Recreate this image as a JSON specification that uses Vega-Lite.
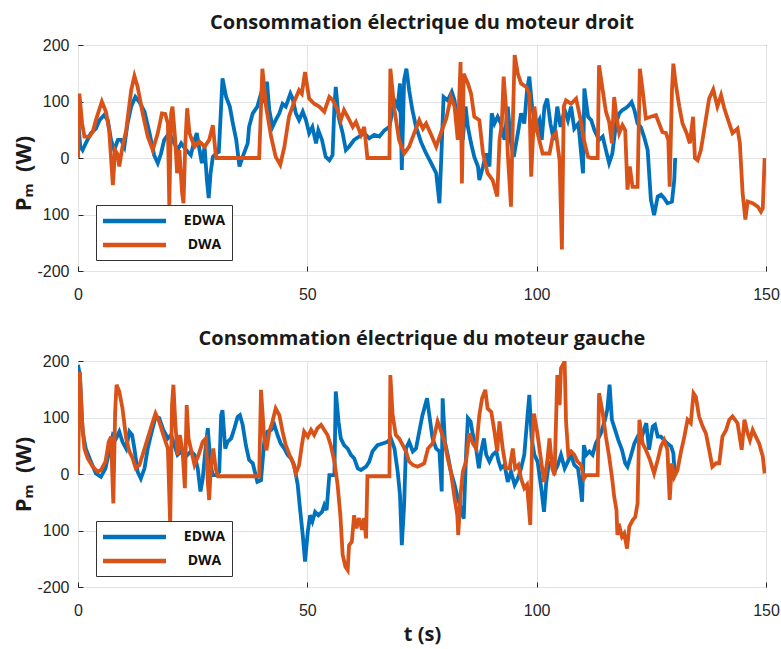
{
  "$schema": "https://vega.github.io/schema/vega-lite/v6.json",
  "background": "white",
  "padding": {"left": 12, "top": 12, "right": 12, "bottom": 8},
  "spacing": 90,
  "bounds": "flush",
  "config": {
    "view": {"stroke": "#262626", "strokeWidth": 1},
    "font": "Liberation Sans",
    "axis": {
      "labelFont": "Liberation Sans",
      "labelFontSize": 16,
      "labelColor": "#262626",
      "labelFlush": false,
      "labelOverlap": false,
      "gridColor": "#e3e3e3",
      "gridWidth": 1,
      "domain": false,
      "tickColor": "#262626",
      "tickSize": -5,
      "titleFont": "Open Sans",
      "titleFontWeight": "bold",
      "titleFontSize": 20,
      "titleColor": "#1a1a1a"
    },
    "title": {"font": "Open Sans", "fontSize": 20, "fontWeight": "bold", "color": "#1a1a1a", "offset": 4, "anchor": "middle"},
    "legend": {
      "orient": "none",
      "legendX": 18,
      "legendY": 160,
      "direction": "vertical",
      "title": null,
      "symbolType": "M-4.2,0H4.2",
      "symbolSize": 225,
      "symbolStrokeWidth": 4.5,
      "symbolOffset": 22.5,
      "labelFont": "Open Sans",
      "labelFontWeight": "bold",
      "labelFontSize": 14,
      "labelColor": "#111111",
      "labelAlign": "center",
      "labelOffset": 60,
      "fillColor": "white",
      "strokeColor": "#333333",
      "padding": 6,
      "rowPadding": 5
    }
  },
  "resolve": {"legend": {"color": "independent"}},
  "datasets": {
    "droit": [
      {"t":0,"p":70,"s":"EDWA"},{"t":0.5,"p":20,"s":"EDWA"},{"t":1.0,"p":14,"s":"EDWA"},{"t":1.7,"p":26,"s":"EDWA"},{"t":2.8,"p":44,"s":"EDWA"},{"t":3.9,"p":52,"s":"EDWA"},{"t":4.7,"p":67,"s":"EDWA"},{"t":5.7,"p":76,"s":"EDWA"},{"t":6.5,"p":67,"s":"EDWA"},{"t":7.2,"p":32,"s":"EDWA"},{"t":7.9,"p":14,"s":"EDWA"},{"t":8.7,"p":32,"s":"EDWA"},{"t":9.4,"p":32,"s":"EDWA"},{"t":10.1,"p":20,"s":"EDWA"},{"t":10.8,"p":61,"s":"EDWA"},{"t":11.6,"p":91,"s":"EDWA"},{"t":12.5,"p":108,"s":"EDWA"},{"t":13.4,"p":99,"s":"EDWA"},{"t":14.5,"p":82,"s":"EDWA"},{"t":15.6,"p":44,"s":"EDWA"},{"t":16.6,"p":5,"s":"EDWA"},{"t":17.4,"p":-9,"s":"EDWA"},{"t":18.1,"p":8,"s":"EDWA"},{"t":18.8,"p":32,"s":"EDWA"},{"t":19.9,"p":44,"s":"EDWA"},{"t":21.0,"p":26,"s":"EDWA"},{"t":21.7,"p":14,"s":"EDWA"},{"t":22.5,"p":26,"s":"EDWA"},{"t":23.6,"p":14,"s":"EDWA"},{"t":24.6,"p":5,"s":"EDWA"},{"t":25.4,"p":32,"s":"EDWA"},{"t":25.9,"p":44,"s":"EDWA"},{"t":26.5,"p":14,"s":"EDWA"},{"t":27.0,"p":-9,"s":"EDWA"},{"t":27.6,"p":20,"s":"EDWA"},{"t":28.1,"p":-39,"s":"EDWA"},{"t":28.5,"p":-71,"s":"EDWA"},{"t":28.9,"p":-27,"s":"EDWA"},{"t":29.4,"p":2,"s":"EDWA"},{"t":30.1,"p":8,"s":"EDWA"},{"t":30.7,"p":11,"s":"EDWA"},{"t":31.2,"p":91,"s":"EDWA"},{"t":31.5,"p":141,"s":"EDWA"},{"t":32.3,"p":108,"s":"EDWA"},{"t":33.1,"p":91,"s":"EDWA"},{"t":33.7,"p":64,"s":"EDWA"},{"t":34.5,"p":32,"s":"EDWA"},{"t":35.2,"p":-15,"s":"EDWA"},{"t":35.9,"p":2,"s":"EDWA"},{"t":37.0,"p":26,"s":"EDWA"},{"t":37.3,"p":55,"s":"EDWA"},{"t":38.1,"p":79,"s":"EDWA"},{"t":39.1,"p":91,"s":"EDWA"},{"t":39.9,"p":114,"s":"EDWA"},{"t":40.6,"p":102,"s":"EDWA"},{"t":41.2,"p":135,"s":"EDWA"},{"t":41.7,"p":85,"s":"EDWA"},{"t":42.4,"p":55,"s":"EDWA"},{"t":43.1,"p":67,"s":"EDWA"},{"t":43.9,"p":79,"s":"EDWA"},{"t":44.6,"p":96,"s":"EDWA"},{"t":45.3,"p":91,"s":"EDWA"},{"t":46.3,"p":114,"s":"EDWA"},{"t":46.8,"p":105,"s":"EDWA"},{"t":47.5,"p":79,"s":"EDWA"},{"t":48.2,"p":67,"s":"EDWA"},{"t":49.0,"p":82,"s":"EDWA"},{"t":49.7,"p":67,"s":"EDWA"},{"t":50.4,"p":44,"s":"EDWA"},{"t":51.1,"p":55,"s":"EDWA"},{"t":51.9,"p":26,"s":"EDWA"},{"t":52.4,"p":49,"s":"EDWA"},{"t":53.2,"p":32,"s":"EDWA"},{"t":54.0,"p":2,"s":"EDWA"},{"t":54.8,"p":-4,"s":"EDWA"},{"t":55.5,"p":5,"s":"EDWA"},{"t":55.9,"p":91,"s":"EDWA"},{"t":56.2,"p":126,"s":"EDWA"},{"t":56.8,"p":73,"s":"EDWA"},{"t":57.7,"p":44,"s":"EDWA"},{"t":58.4,"p":14,"s":"EDWA"},{"t":59.1,"p":20,"s":"EDWA"},{"t":60.2,"p":32,"s":"EDWA"},{"t":61.3,"p":38,"s":"EDWA"},{"t":62.4,"p":44,"s":"EDWA"},{"t":63.5,"p":35,"s":"EDWA"},{"t":64.6,"p":41,"s":"EDWA"},{"t":65.7,"p":38,"s":"EDWA"},{"t":66.8,"p":49,"s":"EDWA"},{"t":67.9,"p":55,"s":"EDWA"},{"t":69.0,"p":102,"s":"EDWA"},{"t":69.7,"p":91,"s":"EDWA"},{"t":70.2,"p":132,"s":"EDWA"},{"t":70.6,"p":-21,"s":"EDWA"},{"t":71.1,"p":138,"s":"EDWA"},{"t":71.6,"p":158,"s":"EDWA"},{"t":72.2,"p":120,"s":"EDWA"},{"t":72.9,"p":85,"s":"EDWA"},{"t":73.7,"p":55,"s":"EDWA"},{"t":74.8,"p":28,"s":"EDWA"},{"t":75.9,"p":8,"s":"EDWA"},{"t":77.0,"p":-9,"s":"EDWA"},{"t":78.1,"p":-27,"s":"EDWA"},{"t":78.8,"p":-80,"s":"EDWA"},{"t":79.3,"p":20,"s":"EDWA"},{"t":79.7,"p":108,"s":"EDWA"},{"t":80.6,"p":102,"s":"EDWA"},{"t":81.5,"p":117,"s":"EDWA"},{"t":82.1,"p":102,"s":"EDWA"},{"t":82.8,"p":55,"s":"EDWA"},{"t":83.9,"p":32,"s":"EDWA"},{"t":84.5,"p":91,"s":"EDWA"},{"t":85.0,"p":55,"s":"EDWA"},{"t":85.7,"p":26,"s":"EDWA"},{"t":86.4,"p":2,"s":"EDWA"},{"t":87.2,"p":-15,"s":"EDWA"},{"t":87.5,"p":-39,"s":"EDWA"},{"t":88.3,"p":-15,"s":"EDWA"},{"t":89.0,"p":8,"s":"EDWA"},{"t":89.7,"p":-15,"s":"EDWA"},{"t":90.2,"p":79,"s":"EDWA"},{"t":90.8,"p":61,"s":"EDWA"},{"t":91.5,"p":73,"s":"EDWA"},{"t":92.2,"p":61,"s":"EDWA"},{"t":93.0,"p":32,"s":"EDWA"},{"t":93.7,"p":91,"s":"EDWA"},{"t":94.3,"p":32,"s":"EDWA"},{"t":95.0,"p":2,"s":"EDWA"},{"t":95.9,"p":44,"s":"EDWA"},{"t":96.6,"p":79,"s":"EDWA"},{"t":97.3,"p":61,"s":"EDWA"},{"t":97.9,"p":120,"s":"EDWA"},{"t":98.4,"p":144,"s":"EDWA"},{"t":99.0,"p":91,"s":"EDWA"},{"t":99.9,"p":55,"s":"EDWA"},{"t":100.6,"p":67,"s":"EDWA"},{"t":101.1,"p":32,"s":"EDWA"},{"t":101.7,"p":91,"s":"EDWA"},{"t":102.3,"p":105,"s":"EDWA"},{"t":103.0,"p":61,"s":"EDWA"},{"t":103.7,"p":32,"s":"EDWA"},{"t":104.5,"p":91,"s":"EDWA"},{"t":105.2,"p":55,"s":"EDWA"},{"t":106.1,"p":85,"s":"EDWA"},{"t":106.8,"p":67,"s":"EDWA"},{"t":107.5,"p":91,"s":"EDWA"},{"t":108.2,"p":52,"s":"EDWA"},{"t":109.1,"p":61,"s":"EDWA"},{"t":109.7,"p":8,"s":"EDWA"},{"t":110.1,"p":-27,"s":"EDWA"},{"t":110.4,"p":123,"s":"EDWA"},{"t":111.2,"p":73,"s":"EDWA"},{"t":111.9,"p":67,"s":"EDWA"},{"t":112.6,"p":49,"s":"EDWA"},{"t":113.6,"p":32,"s":"EDWA"},{"t":114.4,"p":38,"s":"EDWA"},{"t":115.1,"p":14,"s":"EDWA"},{"t":115.8,"p":-9,"s":"EDWA"},{"t":116.5,"p":8,"s":"EDWA"},{"t":117.3,"p":61,"s":"EDWA"},{"t":118.0,"p":79,"s":"EDWA"},{"t":118.7,"p":85,"s":"EDWA"},{"t":119.4,"p":88,"s":"EDWA"},{"t":120.2,"p":94,"s":"EDWA"},{"t":120.7,"p":99,"s":"EDWA"},{"t":121.3,"p":85,"s":"EDWA"},{"t":122.0,"p":61,"s":"EDWA"},{"t":122.7,"p":55,"s":"EDWA"},{"t":123.4,"p":38,"s":"EDWA"},{"t":124.2,"p":14,"s":"EDWA"},{"t":124.9,"p":-74,"s":"EDWA"},{"t":125.6,"p":-101,"s":"EDWA"},{"t":126.4,"p":-68,"s":"EDWA"},{"t":127.1,"p":-65,"s":"EDWA"},{"t":127.8,"p":-71,"s":"EDWA"},{"t":128.5,"p":-80,"s":"EDWA"},{"t":129.5,"p":-77,"s":"EDWA"},{"t":130.0,"p":-39,"s":"EDWA"},{"t":130.2,"p":0,"s":"EDWA"},
      {"t":0,"p":0,"s":"DWA"},{"t":0.3,"p":114,"s":"DWA"},{"t":0.9,"p":61,"s":"DWA"},{"t":1.4,"p":38,"s":"DWA"},{"t":2.5,"p":38,"s":"DWA"},{"t":3.2,"p":46,"s":"DWA"},{"t":3.9,"p":67,"s":"DWA"},{"t":5.2,"p":100,"s":"DWA"},{"t":6.1,"p":82,"s":"DWA"},{"t":6.8,"p":49,"s":"DWA"},{"t":7.6,"p":-48,"s":"DWA"},{"t":8.1,"p":14,"s":"DWA"},{"t":8.7,"p":5,"s":"DWA"},{"t":9.0,"p":-15,"s":"DWA"},{"t":9.7,"p":20,"s":"DWA"},{"t":10.5,"p":49,"s":"DWA"},{"t":11.6,"p":120,"s":"DWA"},{"t":12.3,"p":145,"s":"DWA"},{"t":13.0,"p":126,"s":"DWA"},{"t":14.1,"p":79,"s":"DWA"},{"t":15.2,"p":38,"s":"DWA"},{"t":16.3,"p":14,"s":"DWA"},{"t":17.4,"p":44,"s":"DWA"},{"t":18.3,"p":79,"s":"DWA"},{"t":19.0,"p":78,"s":"DWA"},{"t":19.6,"p":61,"s":"DWA"},{"t":19.9,"p":-83,"s":"DWA"},{"t":20.3,"p":79,"s":"DWA"},{"t":20.6,"p":91,"s":"DWA"},{"t":21.2,"p":32,"s":"DWA"},{"t":21.6,"p":-27,"s":"DWA"},{"t":22.1,"p":14,"s":"DWA"},{"t":22.7,"p":-62,"s":"DWA"},{"t":23.0,"p":-80,"s":"DWA"},{"t":23.4,"p":26,"s":"DWA"},{"t":23.8,"p":88,"s":"DWA"},{"t":24.3,"p":44,"s":"DWA"},{"t":25.4,"p":20,"s":"DWA"},{"t":26.5,"p":29,"s":"DWA"},{"t":27.6,"p":20,"s":"DWA"},{"t":28.6,"p":32,"s":"DWA"},{"t":29.4,"p":58,"s":"DWA"},{"t":30.0,"p":8,"s":"DWA"},{"t":30.2,"p":0,"s":"DWA"},{"t":39.5,"p":0,"s":"DWA"},{"t":40.2,"p":158,"s":"DWA"},{"t":41.0,"p":91,"s":"DWA"},{"t":42.1,"p":38,"s":"DWA"},{"t":43.1,"p":2,"s":"DWA"},{"t":44.1,"p":-12,"s":"DWA"},{"t":45.0,"p":20,"s":"DWA"},{"t":46.0,"p":73,"s":"DWA"},{"t":47.1,"p":99,"s":"DWA"},{"t":48.2,"p":120,"s":"DWA"},{"t":48.8,"p":114,"s":"DWA"},{"t":49.5,"p":152,"s":"DWA"},{"t":50.4,"p":105,"s":"DWA"},{"t":51.5,"p":96,"s":"DWA"},{"t":52.6,"p":91,"s":"DWA"},{"t":53.7,"p":82,"s":"DWA"},{"t":54.8,"p":108,"s":"DWA"},{"t":55.6,"p":102,"s":"DWA"},{"t":56.6,"p":85,"s":"DWA"},{"t":57.3,"p":67,"s":"DWA"},{"t":58.0,"p":85,"s":"DWA"},{"t":58.8,"p":73,"s":"DWA"},{"t":59.9,"p":55,"s":"DWA"},{"t":60.6,"p":64,"s":"DWA"},{"t":61.7,"p":41,"s":"DWA"},{"t":62.4,"p":55,"s":"DWA"},{"t":63.1,"p":0,"s":"DWA"},{"t":67.9,"p":0,"s":"DWA"},{"t":68.1,"p":158,"s":"DWA"},{"t":69.0,"p":85,"s":"DWA"},{"t":70.0,"p":32,"s":"DWA"},{"t":71.1,"p":8,"s":"DWA"},{"t":72.2,"p":20,"s":"DWA"},{"t":73.3,"p":44,"s":"DWA"},{"t":74.4,"p":67,"s":"DWA"},{"t":75.2,"p":52,"s":"DWA"},{"t":75.9,"p":61,"s":"DWA"},{"t":77.0,"p":41,"s":"DWA"},{"t":78.1,"p":20,"s":"DWA"},{"t":79.2,"p":46,"s":"DWA"},{"t":80.3,"p":70,"s":"DWA"},{"t":81.3,"p":108,"s":"DWA"},{"t":82.1,"p":91,"s":"DWA"},{"t":82.8,"p":32,"s":"DWA"},{"t":83.4,"p":170,"s":"DWA"},{"t":83.7,"p":-45,"s":"DWA"},{"t":84.1,"p":149,"s":"DWA"},{"t":85.0,"p":132,"s":"DWA"},{"t":85.7,"p":114,"s":"DWA"},{"t":86.4,"p":73,"s":"DWA"},{"t":87.5,"p":67,"s":"DWA"},{"t":88.3,"p":8,"s":"DWA"},{"t":89.3,"p":-27,"s":"DWA"},{"t":90.4,"p":-39,"s":"DWA"},{"t":91.4,"p":-68,"s":"DWA"},{"t":91.9,"p":32,"s":"DWA"},{"t":92.4,"p":61,"s":"DWA"},{"t":92.8,"p":144,"s":"DWA"},{"t":93.3,"p":91,"s":"DWA"},{"t":93.7,"p":8,"s":"DWA"},{"t":94.4,"p":-86,"s":"DWA"},{"t":94.8,"p":61,"s":"DWA"},{"t":95.2,"p":182,"s":"DWA"},{"t":95.9,"p":149,"s":"DWA"},{"t":96.6,"p":132,"s":"DWA"},{"t":97.7,"p":126,"s":"DWA"},{"t":98.4,"p":114,"s":"DWA"},{"t":98.8,"p":-33,"s":"DWA"},{"t":99.5,"p":91,"s":"DWA"},{"t":100.2,"p":44,"s":"DWA"},{"t":101.3,"p":8,"s":"DWA"},{"t":102.8,"p":8,"s":"DWA"},{"t":103.5,"p":38,"s":"DWA"},{"t":104.2,"p":44,"s":"DWA"},{"t":105.0,"p":-4,"s":"DWA"},{"t":105.5,"p":-162,"s":"DWA"},{"t":105.9,"p":91,"s":"DWA"},{"t":106.4,"p":102,"s":"DWA"},{"t":107.5,"p":96,"s":"DWA"},{"t":108.6,"p":105,"s":"DWA"},{"t":109.6,"p":67,"s":"DWA"},{"t":110.3,"p":32,"s":"DWA"},{"t":111.2,"p":2,"s":"DWA"},{"t":111.9,"p":0,"s":"DWA"},{"t":113.3,"p":0,"s":"DWA"},{"t":113.6,"p":164,"s":"DWA"},{"t":114.4,"p":120,"s":"DWA"},{"t":115.1,"p":82,"s":"DWA"},{"t":115.8,"p":64,"s":"DWA"},{"t":116.4,"p":26,"s":"DWA"},{"t":116.9,"p":108,"s":"DWA"},{"t":117.4,"p":73,"s":"DWA"},{"t":118.0,"p":44,"s":"DWA"},{"t":118.7,"p":58,"s":"DWA"},{"t":119.3,"p":49,"s":"DWA"},{"t":119.8,"p":-56,"s":"DWA"},{"t":120.3,"p":-15,"s":"DWA"},{"t":120.9,"p":-51,"s":"DWA"},{"t":122.0,"p":-51,"s":"DWA"},{"t":122.5,"p":158,"s":"DWA"},{"t":123.1,"p":120,"s":"DWA"},{"t":123.8,"p":70,"s":"DWA"},{"t":124.9,"p":73,"s":"DWA"},{"t":126.0,"p":76,"s":"DWA"},{"t":126.7,"p":61,"s":"DWA"},{"t":127.4,"p":46,"s":"DWA"},{"t":128.2,"p":44,"s":"DWA"},{"t":128.7,"p":32,"s":"DWA"},{"t":129.0,"p":-51,"s":"DWA"},{"t":129.5,"p":120,"s":"DWA"},{"t":129.8,"p":167,"s":"DWA"},{"t":130.3,"p":132,"s":"DWA"},{"t":131.1,"p":91,"s":"DWA"},{"t":131.8,"p":61,"s":"DWA"},{"t":132.7,"p":44,"s":"DWA"},{"t":133.4,"p":26,"s":"DWA"},{"t":134.1,"p":73,"s":"DWA"},{"t":134.5,"p":0,"s":"DWA"},{"t":135.1,"p":-4,"s":"DWA"},{"t":135.8,"p":14,"s":"DWA"},{"t":136.5,"p":49,"s":"DWA"},{"t":137.6,"p":105,"s":"DWA"},{"t":138.5,"p":121,"s":"DWA"},{"t":139.4,"p":91,"s":"DWA"},{"t":140.2,"p":111,"s":"DWA"},{"t":140.9,"p":88,"s":"DWA"},{"t":142.0,"p":61,"s":"DWA"},{"t":142.7,"p":44,"s":"DWA"},{"t":143.8,"p":52,"s":"DWA"},{"t":144.3,"p":26,"s":"DWA"},{"t":144.9,"p":-62,"s":"DWA"},{"t":145.5,"p":-109,"s":"DWA"},{"t":146.0,"p":-77,"s":"DWA"},{"t":147.1,"p":-80,"s":"DWA"},{"t":148.2,"p":-86,"s":"DWA"},{"t":148.9,"p":-95,"s":"DWA"},{"t":149.3,"p":-89,"s":"DWA"},{"t":149.7,"p":0,"s":"DWA"}
    ],
    "gauche": [
      {"t":0,"p":193,"s":"EDWA"},{"t":0.4,"p":175,"s":"EDWA"},{"t":1.0,"p":75,"s":"EDWA"},{"t":1.7,"p":45,"s":"EDWA"},{"t":2.8,"p":22,"s":"EDWA"},{"t":3.9,"p":1,"s":"EDWA"},{"t":5.0,"p":-5,"s":"EDWA"},{"t":6.0,"p":10,"s":"EDWA"},{"t":6.8,"p":40,"s":"EDWA"},{"t":7.6,"p":69,"s":"EDWA"},{"t":8.3,"p":63,"s":"EDWA"},{"t":9.0,"p":75,"s":"EDWA"},{"t":9.7,"p":57,"s":"EDWA"},{"t":10.5,"p":45,"s":"EDWA"},{"t":11.2,"p":75,"s":"EDWA"},{"t":11.8,"p":69,"s":"EDWA"},{"t":12.3,"p":45,"s":"EDWA"},{"t":13.0,"p":4,"s":"EDWA"},{"t":13.7,"p":-8,"s":"EDWA"},{"t":14.5,"p":10,"s":"EDWA"},{"t":15.2,"p":45,"s":"EDWA"},{"t":15.9,"p":69,"s":"EDWA"},{"t":16.9,"p":101,"s":"EDWA"},{"t":17.7,"p":99,"s":"EDWA"},{"t":18.6,"p":78,"s":"EDWA"},{"t":19.6,"p":63,"s":"EDWA"},{"t":20.3,"p":69,"s":"EDWA"},{"t":21.0,"p":51,"s":"EDWA"},{"t":21.7,"p":34,"s":"EDWA"},{"t":22.5,"p":40,"s":"EDWA"},{"t":23.2,"p":28,"s":"EDWA"},{"t":23.9,"p":34,"s":"EDWA"},{"t":24.6,"p":40,"s":"EDWA"},{"t":25.4,"p":34,"s":"EDWA"},{"t":26.1,"p":10,"s":"EDWA"},{"t":26.7,"p":-31,"s":"EDWA"},{"t":27.2,"p":-8,"s":"EDWA"},{"t":27.8,"p":45,"s":"EDWA"},{"t":28.3,"p":81,"s":"EDWA"},{"t":28.9,"p":16,"s":"EDWA"},{"t":29.4,"p":-2,"s":"EDWA"},{"t":30.1,"p":-2,"s":"EDWA"},{"t":30.8,"p":4,"s":"EDWA"},{"t":31.2,"p":104,"s":"EDWA"},{"t":31.5,"p":113,"s":"EDWA"},{"t":32.1,"p":45,"s":"EDWA"},{"t":32.6,"p":57,"s":"EDWA"},{"t":33.4,"p":63,"s":"EDWA"},{"t":34.1,"p":81,"s":"EDWA"},{"t":34.8,"p":101,"s":"EDWA"},{"t":35.3,"p":104,"s":"EDWA"},{"t":35.9,"p":87,"s":"EDWA"},{"t":36.6,"p":51,"s":"EDWA"},{"t":37.3,"p":25,"s":"EDWA"},{"t":38.1,"p":19,"s":"EDWA"},{"t":39.1,"p":-14,"s":"EDWA"},{"t":39.9,"p":-11,"s":"EDWA"},{"t":40.6,"p":57,"s":"EDWA"},{"t":41.3,"p":75,"s":"EDWA"},{"t":42.1,"p":78,"s":"EDWA"},{"t":42.8,"p":87,"s":"EDWA"},{"t":43.5,"p":69,"s":"EDWA"},{"t":44.2,"p":54,"s":"EDWA"},{"t":45.0,"p":45,"s":"EDWA"},{"t":45.7,"p":34,"s":"EDWA"},{"t":46.4,"p":28,"s":"EDWA"},{"t":47.1,"p":16,"s":"EDWA"},{"t":47.9,"p":-19,"s":"EDWA"},{"t":48.4,"p":-61,"s":"EDWA"},{"t":49.0,"p":-108,"s":"EDWA"},{"t":49.5,"p":-155,"s":"EDWA"},{"t":50.1,"p":-102,"s":"EDWA"},{"t":50.6,"p":-73,"s":"EDWA"},{"t":51.1,"p":-84,"s":"EDWA"},{"t":51.7,"p":-67,"s":"EDWA"},{"t":52.4,"p":-73,"s":"EDWA"},{"t":53.2,"p":-67,"s":"EDWA"},{"t":53.7,"p":-55,"s":"EDWA"},{"t":54.2,"p":-64,"s":"EDWA"},{"t":54.8,"p":-2,"s":"EDWA"},{"t":55.9,"p":-2,"s":"EDWA"},{"t":56.2,"p":146,"s":"EDWA"},{"t":56.8,"p":93,"s":"EDWA"},{"t":57.3,"p":63,"s":"EDWA"},{"t":58.0,"p":51,"s":"EDWA"},{"t":58.8,"p":45,"s":"EDWA"},{"t":59.5,"p":34,"s":"EDWA"},{"t":60.2,"p":28,"s":"EDWA"},{"t":61.0,"p":10,"s":"EDWA"},{"t":61.7,"p":7,"s":"EDWA"},{"t":62.8,"p":13,"s":"EDWA"},{"t":63.5,"p":22,"s":"EDWA"},{"t":64.2,"p":40,"s":"EDWA"},{"t":65.3,"p":51,"s":"EDWA"},{"t":66.4,"p":54,"s":"EDWA"},{"t":67.5,"p":57,"s":"EDWA"},{"t":68.2,"p":63,"s":"EDWA"},{"t":69.0,"p":45,"s":"EDWA"},{"t":69.7,"p":4,"s":"EDWA"},{"t":70.2,"p":-37,"s":"EDWA"},{"t":70.6,"p":-126,"s":"EDWA"},{"t":71.1,"p":-55,"s":"EDWA"},{"t":71.5,"p":45,"s":"EDWA"},{"t":72.2,"p":57,"s":"EDWA"},{"t":73.0,"p":40,"s":"EDWA"},{"t":73.7,"p":45,"s":"EDWA"},{"t":74.4,"p":75,"s":"EDWA"},{"t":75.1,"p":104,"s":"EDWA"},{"t":75.5,"p":116,"s":"EDWA"},{"t":76.1,"p":134,"s":"EDWA"},{"t":76.6,"p":104,"s":"EDWA"},{"t":77.3,"p":63,"s":"EDWA"},{"t":78.1,"p":45,"s":"EDWA"},{"t":78.8,"p":40,"s":"EDWA"},{"t":79.3,"p":-31,"s":"EDWA"},{"t":79.5,"p":134,"s":"EDWA"},{"t":80.0,"p":57,"s":"EDWA"},{"t":80.6,"p":34,"s":"EDWA"},{"t":81.3,"p":4,"s":"EDWA"},{"t":82.1,"p":-19,"s":"EDWA"},{"t":82.8,"p":-43,"s":"EDWA"},{"t":83.5,"p":-61,"s":"EDWA"},{"t":84.1,"p":-79,"s":"EDWA"},{"t":84.6,"p":34,"s":"EDWA"},{"t":85.0,"p":99,"s":"EDWA"},{"t":85.6,"p":93,"s":"EDWA"},{"t":86.1,"p":69,"s":"EDWA"},{"t":86.8,"p":45,"s":"EDWA"},{"t":87.4,"p":10,"s":"EDWA"},{"t":87.9,"p":40,"s":"EDWA"},{"t":88.5,"p":63,"s":"EDWA"},{"t":89.0,"p":34,"s":"EDWA"},{"t":89.7,"p":22,"s":"EDWA"},{"t":90.4,"p":34,"s":"EDWA"},{"t":91.2,"p":40,"s":"EDWA"},{"t":91.7,"p":22,"s":"EDWA"},{"t":92.2,"p":10,"s":"EDWA"},{"t":93.0,"p":16,"s":"EDWA"},{"t":93.7,"p":-14,"s":"EDWA"},{"t":94.4,"p":4,"s":"EDWA"},{"t":95.2,"p":-19,"s":"EDWA"},{"t":95.9,"p":-8,"s":"EDWA"},{"t":96.6,"p":10,"s":"EDWA"},{"t":97.3,"p":34,"s":"EDWA"},{"t":97.9,"p":93,"s":"EDWA"},{"t":98.4,"p":140,"s":"EDWA"},{"t":98.9,"p":63,"s":"EDWA"},{"t":99.5,"p":34,"s":"EDWA"},{"t":100.2,"p":22,"s":"EDWA"},{"t":101.0,"p":-25,"s":"EDWA"},{"t":101.6,"p":-67,"s":"EDWA"},{"t":102.1,"p":-14,"s":"EDWA"},{"t":102.6,"p":16,"s":"EDWA"},{"t":103.2,"p":22,"s":"EDWA"},{"t":103.9,"p":4,"s":"EDWA"},{"t":104.6,"p":16,"s":"EDWA"},{"t":105.3,"p":34,"s":"EDWA"},{"t":106.1,"p":10,"s":"EDWA"},{"t":106.8,"p":22,"s":"EDWA"},{"t":107.5,"p":34,"s":"EDWA"},{"t":108.2,"p":16,"s":"EDWA"},{"t":109.0,"p":10,"s":"EDWA"},{"t":109.5,"p":-19,"s":"EDWA"},{"t":109.9,"p":-49,"s":"EDWA"},{"t":110.3,"p":51,"s":"EDWA"},{"t":110.8,"p":34,"s":"EDWA"},{"t":111.5,"p":40,"s":"EDWA"},{"t":112.2,"p":34,"s":"EDWA"},{"t":112.9,"p":54,"s":"EDWA"},{"t":114.0,"p":72,"s":"EDWA"},{"t":114.9,"p":96,"s":"EDWA"},{"t":115.4,"p":114,"s":"EDWA"},{"t":115.9,"p":158,"s":"EDWA"},{"t":116.4,"p":96,"s":"EDWA"},{"t":117.1,"p":78,"s":"EDWA"},{"t":117.8,"p":60,"s":"EDWA"},{"t":118.6,"p":43,"s":"EDWA"},{"t":119.3,"p":19,"s":"EDWA"},{"t":119.8,"p":13,"s":"EDWA"},{"t":120.5,"p":31,"s":"EDWA"},{"t":121.3,"p":54,"s":"EDWA"},{"t":122.0,"p":66,"s":"EDWA"},{"t":122.7,"p":60,"s":"EDWA"},{"t":123.4,"p":78,"s":"EDWA"},{"t":123.9,"p":90,"s":"EDWA"},{"t":124.5,"p":43,"s":"EDWA"},{"t":125.3,"p":84,"s":"EDWA"},{"t":125.8,"p":87,"s":"EDWA"},{"t":126.4,"p":66,"s":"EDWA"},{"t":127.1,"p":66,"s":"EDWA"},{"t":127.8,"p":60,"s":"EDWA"},{"t":128.5,"p":54,"s":"EDWA"},{"t":129.3,"p":49,"s":"EDWA"},{"t":129.8,"p":37,"s":"EDWA"},{"t":130.1,"p":1,"s":"EDWA"},
      {"t":0,"p":0,"s":"DWA"},{"t":0.4,"p":181,"s":"DWA"},{"t":0.9,"p":93,"s":"DWA"},{"t":1.4,"p":45,"s":"DWA"},{"t":2.1,"p":28,"s":"DWA"},{"t":3.2,"p":13,"s":"DWA"},{"t":4.3,"p":4,"s":"DWA"},{"t":5.0,"p":7,"s":"DWA"},{"t":6.0,"p":22,"s":"DWA"},{"t":6.7,"p":57,"s":"DWA"},{"t":7.2,"p":66,"s":"DWA"},{"t":7.7,"p":-52,"s":"DWA"},{"t":8.1,"p":110,"s":"DWA"},{"t":8.4,"p":158,"s":"DWA"},{"t":9.0,"p":146,"s":"DWA"},{"t":9.7,"p":116,"s":"DWA"},{"t":10.5,"p":63,"s":"DWA"},{"t":11.2,"p":40,"s":"DWA"},{"t":11.9,"p":28,"s":"DWA"},{"t":12.6,"p":10,"s":"DWA"},{"t":13.4,"p":16,"s":"DWA"},{"t":14.1,"p":34,"s":"DWA"},{"t":15.2,"p":63,"s":"DWA"},{"t":16.1,"p":87,"s":"DWA"},{"t":16.9,"p":107,"s":"DWA"},{"t":17.7,"p":93,"s":"DWA"},{"t":18.6,"p":69,"s":"DWA"},{"t":19.6,"p":45,"s":"DWA"},{"t":20.1,"p":-90,"s":"DWA"},{"t":20.5,"p":122,"s":"DWA"},{"t":20.8,"p":158,"s":"DWA"},{"t":21.2,"p":93,"s":"DWA"},{"t":21.7,"p":34,"s":"DWA"},{"t":22.2,"p":69,"s":"DWA"},{"t":22.8,"p":40,"s":"DWA"},{"t":23.3,"p":-25,"s":"DWA"},{"t":23.7,"p":122,"s":"DWA"},{"t":24.1,"p":63,"s":"DWA"},{"t":24.6,"p":45,"s":"DWA"},{"t":25.4,"p":16,"s":"DWA"},{"t":26.3,"p":34,"s":"DWA"},{"t":27.2,"p":57,"s":"DWA"},{"t":27.9,"p":63,"s":"DWA"},{"t":28.3,"p":-14,"s":"DWA"},{"t":28.6,"p":-46,"s":"DWA"},{"t":29.0,"p":16,"s":"DWA"},{"t":29.5,"p":45,"s":"DWA"},{"t":30.0,"p":10,"s":"DWA"},{"t":30.5,"p":-4,"s":"DWA"},{"t":39.5,"p":-4,"s":"DWA"},{"t":39.9,"p":149,"s":"DWA"},{"t":40.6,"p":63,"s":"DWA"},{"t":41.1,"p":42,"s":"DWA"},{"t":41.7,"p":75,"s":"DWA"},{"t":42.4,"p":93,"s":"DWA"},{"t":43.1,"p":116,"s":"DWA"},{"t":43.9,"p":104,"s":"DWA"},{"t":44.6,"p":75,"s":"DWA"},{"t":45.3,"p":51,"s":"DWA"},{"t":46.1,"p":34,"s":"DWA"},{"t":46.8,"p":22,"s":"DWA"},{"t":47.5,"p":1,"s":"DWA"},{"t":48.2,"p":16,"s":"DWA"},{"t":48.8,"p":51,"s":"DWA"},{"t":49.3,"p":75,"s":"DWA"},{"t":50.1,"p":66,"s":"DWA"},{"t":50.8,"p":78,"s":"DWA"},{"t":51.5,"p":69,"s":"DWA"},{"t":52.2,"p":81,"s":"DWA"},{"t":53.0,"p":87,"s":"DWA"},{"t":53.7,"p":78,"s":"DWA"},{"t":54.4,"p":69,"s":"DWA"},{"t":55.1,"p":51,"s":"DWA"},{"t":55.9,"p":22,"s":"DWA"},{"t":56.6,"p":-19,"s":"DWA"},{"t":57.2,"p":-73,"s":"DWA"},{"t":57.7,"p":-143,"s":"DWA"},{"t":58.3,"p":-164,"s":"DWA"},{"t":58.8,"p":-170,"s":"DWA"},{"t":59.1,"p":-126,"s":"DWA"},{"t":59.7,"p":-120,"s":"DWA"},{"t":60.2,"p":-73,"s":"DWA"},{"t":60.7,"p":-96,"s":"DWA"},{"t":61.3,"p":-78,"s":"DWA"},{"t":61.9,"p":-99,"s":"DWA"},{"t":62.4,"p":-78,"s":"DWA"},{"t":62.8,"p":-114,"s":"DWA"},{"t":63.1,"p":-4,"s":"DWA"},{"t":67.9,"p":-4,"s":"DWA"},{"t":68.1,"p":175,"s":"DWA"},{"t":68.6,"p":104,"s":"DWA"},{"t":69.3,"p":69,"s":"DWA"},{"t":70.0,"p":63,"s":"DWA"},{"t":70.8,"p":51,"s":"DWA"},{"t":71.5,"p":40,"s":"DWA"},{"t":72.2,"p":22,"s":"DWA"},{"t":73.0,"p":16,"s":"DWA"},{"t":74.0,"p":13,"s":"DWA"},{"t":74.8,"p":16,"s":"DWA"},{"t":75.5,"p":19,"s":"DWA"},{"t":76.3,"p":45,"s":"DWA"},{"t":77.3,"p":54,"s":"DWA"},{"t":78.4,"p":93,"s":"DWA"},{"t":79.2,"p":75,"s":"DWA"},{"t":79.9,"p":57,"s":"DWA"},{"t":80.6,"p":28,"s":"DWA"},{"t":81.3,"p":4,"s":"DWA"},{"t":82.1,"p":-43,"s":"DWA"},{"t":82.7,"p":-73,"s":"DWA"},{"t":82.9,"p":-108,"s":"DWA"},{"t":83.4,"p":-37,"s":"DWA"},{"t":83.9,"p":4,"s":"DWA"},{"t":84.6,"p":22,"s":"DWA"},{"t":85.3,"p":72,"s":"DWA"},{"t":86.1,"p":54,"s":"DWA"},{"t":86.8,"p":45,"s":"DWA"},{"t":87.5,"p":104,"s":"DWA"},{"t":88.1,"p":134,"s":"DWA"},{"t":88.8,"p":149,"s":"DWA"},{"t":89.3,"p":116,"s":"DWA"},{"t":90.1,"p":110,"s":"DWA"},{"t":90.8,"p":75,"s":"DWA"},{"t":91.4,"p":40,"s":"DWA"},{"t":91.9,"p":93,"s":"DWA"},{"t":92.6,"p":45,"s":"DWA"},{"t":93.3,"p":10,"s":"DWA"},{"t":94.1,"p":10,"s":"DWA"},{"t":94.8,"p":45,"s":"DWA"},{"t":95.3,"p":10,"s":"DWA"},{"t":96.0,"p":16,"s":"DWA"},{"t":96.6,"p":-8,"s":"DWA"},{"t":97.3,"p":-25,"s":"DWA"},{"t":97.9,"p":-19,"s":"DWA"},{"t":98.6,"p":-90,"s":"DWA"},{"t":99.0,"p":51,"s":"DWA"},{"t":99.4,"p":107,"s":"DWA"},{"t":100.1,"p":75,"s":"DWA"},{"t":100.8,"p":34,"s":"DWA"},{"t":101.6,"p":-14,"s":"DWA"},{"t":102.3,"p":22,"s":"DWA"},{"t":102.8,"p":63,"s":"DWA"},{"t":103.4,"p":10,"s":"DWA"},{"t":103.9,"p":-2,"s":"DWA"},{"t":104.5,"p":175,"s":"DWA"},{"t":105.0,"p":122,"s":"DWA"},{"t":105.3,"p":187,"s":"DWA"},{"t":105.7,"p":193,"s":"DWA"},{"t":106.1,"p":200,"s":"DWA"},{"t":106.4,"p":93,"s":"DWA"},{"t":106.9,"p":34,"s":"DWA"},{"t":107.5,"p":40,"s":"DWA"},{"t":108.2,"p":34,"s":"DWA"},{"t":108.9,"p":22,"s":"DWA"},{"t":109.7,"p":16,"s":"DWA"},{"t":110.3,"p":-8,"s":"DWA"},{"t":110.8,"p":-2,"s":"DWA"},{"t":113.3,"p":-2,"s":"DWA"},{"t":113.6,"p":143,"s":"DWA"},{"t":114.4,"p":108,"s":"DWA"},{"t":115.1,"p":66,"s":"DWA"},{"t":115.8,"p":31,"s":"DWA"},{"t":116.5,"p":-11,"s":"DWA"},{"t":116.9,"p":-40,"s":"DWA"},{"t":117.4,"p":-64,"s":"DWA"},{"t":117.6,"p":-108,"s":"DWA"},{"t":117.9,"p":-88,"s":"DWA"},{"t":118.6,"p":-111,"s":"DWA"},{"t":119.1,"p":-105,"s":"DWA"},{"t":119.7,"p":-132,"s":"DWA"},{"t":120.2,"p":-93,"s":"DWA"},{"t":120.9,"p":-82,"s":"DWA"},{"t":121.5,"p":-76,"s":"DWA"},{"t":122.0,"p":-52,"s":"DWA"},{"t":122.4,"p":96,"s":"DWA"},{"t":123.1,"p":54,"s":"DWA"},{"t":123.8,"p":43,"s":"DWA"},{"t":124.7,"p":25,"s":"DWA"},{"t":125.6,"p":1,"s":"DWA"},{"t":126.4,"p":25,"s":"DWA"},{"t":127.1,"p":49,"s":"DWA"},{"t":127.8,"p":60,"s":"DWA"},{"t":128.5,"p":43,"s":"DWA"},{"t":129.0,"p":-46,"s":"DWA"},{"t":129.5,"p":19,"s":"DWA"},{"t":130.0,"p":-5,"s":"DWA"},{"t":130.7,"p":7,"s":"DWA"},{"t":131.4,"p":37,"s":"DWA"},{"t":132.2,"p":66,"s":"DWA"},{"t":132.9,"p":96,"s":"DWA"},{"t":133.6,"p":90,"s":"DWA"},{"t":134.2,"p":143,"s":"DWA"},{"t":134.7,"p":137,"s":"DWA"},{"t":135.4,"p":102,"s":"DWA"},{"t":136.2,"p":84,"s":"DWA"},{"t":136.9,"p":72,"s":"DWA"},{"t":137.6,"p":43,"s":"DWA"},{"t":138.3,"p":13,"s":"DWA"},{"t":139.1,"p":19,"s":"DWA"},{"t":139.8,"p":19,"s":"DWA"},{"t":140.5,"p":66,"s":"DWA"},{"t":141.3,"p":78,"s":"DWA"},{"t":142.0,"p":96,"s":"DWA"},{"t":142.7,"p":102,"s":"DWA"},{"t":143.8,"p":90,"s":"DWA"},{"t":144.7,"p":43,"s":"DWA"},{"t":145.3,"p":96,"s":"DWA"},{"t":146.0,"p":72,"s":"DWA"},{"t":146.5,"p":60,"s":"DWA"},{"t":147.1,"p":78,"s":"DWA"},{"t":147.8,"p":66,"s":"DWA"},{"t":148.5,"p":54,"s":"DWA"},{"t":149.3,"p":31,"s":"DWA"},{"t":149.7,"p":1,"s":"DWA"}
    ]
  },
  "vconcat": [
    {
      "width": 688,
      "height": 226,
      "title": "Consommation électrique du moteur droit",
      "data": {"name": "droit"},
      "mark": {"type": "line", "strokeWidth": 3.8, "clip": true},
      "encoding": {
        "x": {
          "field": "t", "type": "quantitative",
          "scale": {"domain": [0, 150], "nice": false, "zero": false},
          "axis": {"values": [0, 50, 100, 150], "title": null, "labelPadding": 20}
        },
        "y": {
          "field": "p", "type": "quantitative",
          "scale": {"domain": [-200, 200], "nice": false},
          "axis": {
            "values": [-200, -100, 0, 100, 200],
            "title": "Pₘ\u00a0\u00a0(W)",
            "titleFontSize": 22,
            "titlePadding": 1,
            "titleY": 128,
            "labelPadding": 14,
            "labelExpr": "datum.value == -200 ? '-200' : datum.value == -100 ? '100' : '' + datum.value"
          }
        },
        "color": {
          "field": "s", "type": "nominal",
          "scale": {"domain": ["EDWA", "DWA"], "range": ["#0072BD", "#D95319"]}
        }
      }
    },
    {
      "width": 688,
      "height": 226,
      "title": "Consommation électrique du moteur gauche",
      "data": {"name": "gauche"},
      "mark": {"type": "line", "strokeWidth": 3.8, "clip": true},
      "encoding": {
        "x": {
          "field": "t", "type": "quantitative",
          "scale": {"domain": [0, 150], "nice": false, "zero": false},
          "axis": {"values": [0, 50, 100, 150], "title": "t (s)", "labelPadding": 20, "titlePadding": 6}
        },
        "y": {
          "field": "p", "type": "quantitative",
          "scale": {"domain": [-200, 200], "nice": false},
          "axis": {
            "values": [-200, -100, 0, 100, 200],
            "title": "Pₘ\u00a0\u00a0(W)",
            "titleFontSize": 22,
            "titlePadding": 1,
            "labelPadding": 14,
            "labelExpr": "datum.value == -200 ? '-200' : datum.value == -100 ? '100' : '' + datum.value"
          }
        },
        "color": {
          "field": "s", "type": "nominal",
          "scale": {"domain": ["EDWA", "DWA"], "range": ["#0072BD", "#D95319"]}
        }
      }
    }
  ]
}
